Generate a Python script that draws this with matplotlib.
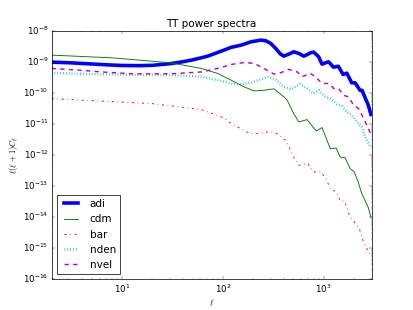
import matplotlib
matplotlib.use("Agg")
import matplotlib.pyplot as plt

plt.style.use("classic")

# ---- data ----
ell_adi = [2, 3, 5, 7, 10, 15, 20, 30, 40, 50, 70, 100, 120, 152, 190, 239, 267, 299, 334, 374,
           403, 452, 506, 567, 635, 686, 740, 797, 893, 964, 1038, 1119, 1254, 1400, 1560, 1701,
           1900, 2055, 2300, 2411, 2578, 2761, 2951]
cl_adi = [9.75e-10, 9.3e-10, 8.5e-10, 8.0e-10, 7.6e-10, 7.5e-10, 7.7e-10, 8.7e-10, 1.0e-9, 1.15e-9,
          1.5e-9, 2.3e-9, 2.9e-9, 3.45e-9, 4.4e-9, 5.0e-9, 4.75e-9, 3.9e-9, 2.7e-9, 1.77e-9,
          1.52e-9, 1.77e-9, 2.1e-9, 1.86e-9, 1.52e-9, 1.7e-9, 1.95e-9, 2.05e-9, 1.45e-9, 8.4e-10,
          9.2e-10, 1.0e-9, 6.7e-10, 7.2e-10, 3.9e-10, 4.3e-10, 2.1e-10, 2.1e-10, 1.2e-10, 1.2e-10,
          7.0e-11, 4.2e-11, 2.0e-11]

ell_cdm = [2, 8, 31, 61, 89, 121, 163, 204, 256, 322, 403, 435, 506, 567, 620, 686, 780, 847, 964,
           1164, 1334, 1460, 1636, 1834, 2006, 2211, 2388, 2575, 2775, 2951]
cl_cdm = [1.64e-9, 1.34e-9, 9.2e-10, 6.1e-10, 4.2e-10, 2.55e-10, 1.55e-10, 1.15e-10, 1.21e-10,
          1.34e-10, 7.4e-11, 5.8e-11, 2.1e-11, 1.15e-11, 1.25e-11, 1.37e-11, 8.0e-12, 5.9e-12,
          7.6e-12, 1.59e-12, 1.66e-12, 8.5e-13, 8.1e-13, 3.6e-13, 2.9e-13, 1.3e-13, 5.7e-14,
          3.4e-14, 2.0e-14, 9.7e-15]

ell_bar = [2, 6.3, 19.6, 61, 100, 121, 140, 183, 230, 287, 346, 420, 506, 567, 696, 795, 934,
           1078, 1162, 1346, 1460, 1620, 1800, 2060, 2265, 2410, 2660, 2950]
cl_bar = [6.5e-11, 5.4e-11, 4.5e-11, 2.9e-11, 1.6e-11, 1.02e-11, 7.9e-12, 5.0e-12, 4.8e-12,
          5.6e-12, 4.8e-12, 2.95e-12, 8.5e-13, 4.6e-13, 5.3e-13, 2.8e-13, 2.9e-13, 1.5e-13,
          8.0e-14, 6.3e-14, 3.3e-14, 3.2e-14, 1.1e-14, 6.2e-15, 4.2e-15, 2.0e-15, 1.0e-15, 5.6e-16]

ell_nden = [2, 3.7, 12.5, 31, 61, 89, 121, 151, 188, 236, 286, 334, 403, 470, 587, 685, 796, 893,
            1040, 1162, 1355, 1520, 1700, 1900, 2130, 2390, 2625, 2950]
cl_nden = [4.4e-10, 4.1e-10, 3.8e-10, 3.7e-10, 3.3e-10, 2.55e-10, 2.0e-10, 1.85e-10, 2.1e-10,
           2.7e-10, 3.3e-10, 2.7e-10, 1.55e-10, 1.28e-10, 1.9e-10, 1.38e-10, 9.5e-11, 1.21e-10,
           7.4e-11, 6.6e-11, 4.3e-11, 3.7e-11, 2.4e-11, 1.9e-11, 1.2e-11, 7.9e-12, 3.4e-12, 1.7e-12]

ell_nvel = [2, 3.7, 6.3, 12.5, 31, 61, 89, 121, 163, 204, 256, 322, 373, 450, 548, 612, 739, 830,
            967, 1125, 1260, 1410, 1580, 1770, 1985, 2225, 2490, 2690, 2950]
cl_nvel = [6.1e-10, 5.4e-10, 4.7e-10, 4.1e-10, 4.1e-10, 4.7e-10, 6.1e-10, 8.2e-10, 9.5e-10,
           8.9e-10, 6.1e-10, 4.0e-10, 4.4e-10, 5.7e-10, 4.7e-10, 3.3e-10, 4.2e-10, 3.3e-10,
           2.0e-10, 2.0e-10, 1.38e-10, 1.38e-10, 8.3e-11, 7.4e-11, 4.0e-11, 3.1e-11, 1.5e-11,
           8.9e-12, 4.6e-12]

labels = ["adi", "cdm", "bar", "nden", "nvel"]
title = "TT power spectra"

fig = plt.figure(figsize=(8, 6.01), facecolor="white")
ax = fig.add_subplot(111)
ax.loglog(ell_adi, cl_adi, "b-", lw=5, label=labels[0])
ax.loglog(ell_cdm, cl_cdm, "g-", lw=1.3, label=labels[1])
ax.loglog(ell_bar, cl_bar, "r-.", lw=1.3, label=labels[2])
ax.loglog(ell_nden, cl_nden, "c:", lw=3.5, label=labels[3])
ax.loglog(ell_nvel, cl_nvel, "m--", lw=2, label=labels[4])
ax.set_xlim(2, 3000)
ax.set_ylim(1e-16, 1e-8)
ax.set_title(title)
ax.set_xlabel(r"$\ell$")
ax.set_ylabel(r"$\ell(\ell+1)C_\ell$")
ax.legend(loc="lower left")
fig.savefig("out.png", dpi=51.625, facecolor="white")
